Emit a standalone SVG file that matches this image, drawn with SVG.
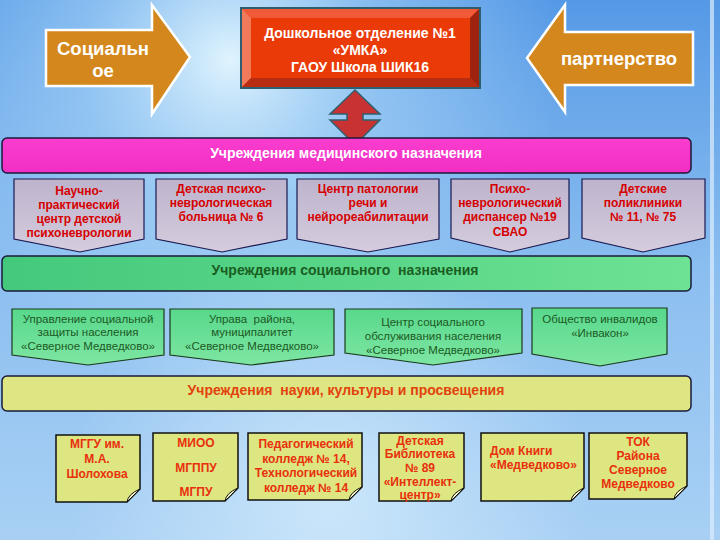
<svg xmlns="http://www.w3.org/2000/svg" width="720" height="540" viewBox="0 0 720 540">
<defs>
<linearGradient id="bg" x1="0" y1="0" x2="0" y2="1">
<stop offset="0" stop-color="#5599E6"/>
<stop offset="0.5" stop-color="#8BBEF0"/>
<stop offset="1" stop-color="#A8D0F4"/>
</linearGradient>
<radialGradient id="glow" cx="230" cy="60" r="330" gradientUnits="userSpaceOnUse">
<stop offset="0" stop-color="#E6F8FF" stop-opacity="0.95"/>
<stop offset="0.45" stop-color="#B8E0FA" stop-opacity="0.5"/>
<stop offset="1" stop-color="#B8E0FA" stop-opacity="0"/>
</radialGradient>
<radialGradient id="glow2" cx="330" cy="500" r="260" gradientUnits="userSpaceOnUse">
<stop offset="0" stop-color="#D4ECFC" stop-opacity="0.8"/>
<stop offset="1" stop-color="#D4ECFC" stop-opacity="0"/>
</radialGradient>
<linearGradient id="pink" x1="0" y1="0" x2="0" y2="1">
<stop offset="0" stop-color="#FA3DCF"/>
<stop offset="1" stop-color="#F22EC4"/>
</linearGradient>
<linearGradient id="green" x1="0" y1="0" x2="1" y2="0">
<stop offset="0" stop-color="#44C97C"/>
<stop offset="1" stop-color="#6EE294"/>
</linearGradient>
<linearGradient id="lav" x1="0" y1="0" x2="0" y2="1">
<stop offset="0" stop-color="#BDB3CC"/>
<stop offset="1" stop-color="#D6CCDE"/>
</linearGradient>
<linearGradient id="lgreen" x1="0" y1="0" x2="0" y2="1">
<stop offset="0" stop-color="#58D88C"/>
<stop offset="1" stop-color="#7EE6A2"/>
</linearGradient>
<style>
.t{font-family:"Liberation Sans",Arial,sans-serif;text-anchor:middle}
.arrow{fill:#D4871C;stroke:#FFFFFF;stroke-width:2.5}
.arrowtxt{fill:#FFFFFF;font-size:18.5px;font-weight:bold}
.boxtxt{fill:#FFFFFF;font-size:14px;font-weight:bold}
.bar{stroke:#1A1A3A;stroke-width:1.5}
.bartxt{font-size:14px;font-weight:bold}
.med{fill:url(#lav);stroke:#1A1A50;stroke-width:1.2}
.medtxt{fill:#D60000;font-size:12px;font-weight:bold}
.soc{fill:url(#lgreen);stroke:#1A3A1A;stroke-width:1.2}
.soctxt{fill:#1B5A24;font-size:11.5px}
.note{fill:#DDE680;stroke:#111111;stroke-width:1.5}
.fold{fill:#F4F6C8;stroke:#111111;stroke-width:1}
.notetxt{fill:#E8300E;font-size:12px;font-weight:bold}
</style>
</defs>
<rect width="720" height="540" fill="url(#bg)"/>
<rect width="720" height="540" fill="url(#glow)"/>
<rect width="720" height="540" fill="url(#glow2)"/>
<rect x="710" y="0" width="4" height="540" fill="#DDEEFF" opacity="0.7"/>

<g id="arrow-social">
<polygon class="arrow" points="46,30 152,30 152,5 190,57 152,114 152,86 46,86"/>
<text class="t arrowtxt" x="103" y="55">Социальн</text>
<text class="t arrowtxt" x="103" y="77">ое</text>
</g>

<g id="arrow-partner">
<polygon class="arrow" points="693,32 565,32 565,5 527,58 565,112 565,85 693,85"/>
<text class="t arrowtxt" x="619" y="65">партнерство</text>
</g>

<g id="main-box">
<rect x="241" y="8" width="239" height="80" fill="#E23A10" stroke="#2E5E6E" stroke-width="2"/>
<polygon points="242,9 479,9 470,18 251,18" fill="#F05A38"/>
<polygon points="242,9 251,18 251,78 242,87" fill="#F07A5A"/>
<polygon points="479,9 479,87 470,78 470,18" fill="#9E2410"/>
<polygon points="242,87 251,78 470,78 479,87" fill="#B82C12"/>
<rect x="251" y="18" width="219" height="60" fill="#EA3A08"/>
<text class="t boxtxt" x="360" y="38">Дошкольное отделение №1</text>
<text class="t boxtxt" x="360" y="55">«УМКА»</text>
<text class="t boxtxt" x="360" y="72">ГАОУ Школа ШИК16</text>
</g>

<g id="connectors">
<polygon points="355,90 380,114 363,114 363,120 380,120 355,145 330,120 347,120 347,114 330,114" fill="#C83232" stroke="#2E6070" stroke-width="1.5"/>
</g>

<g id="bar-medical">
<rect class="bar" x="2" y="138" width="689" height="35" rx="5" fill="url(#pink)"/>
<text class="t bartxt" x="346" y="158" fill="#FFFFFF">Учреждения медицинского назначения</text>
</g>

<g id="med-1">
<polygon class="med" points="14,179 144,179 144,239 80,252 14,239"/>
<text class="t medtxt" x="79" y="195">Научно-</text>
<text class="t medtxt" x="79" y="209">практический</text>
<text class="t medtxt" x="79" y="223">центр детской</text>
<text class="t medtxt" x="79" y="237">психоневрологии</text>
</g>
<g id="med-2">
<polygon class="med" points="156,179 287,179 287,239 222,252 156,239"/>
<text class="t medtxt" x="221" y="193">Детская психо-</text>
<text class="t medtxt" x="221" y="207">неврологическая</text>
<text class="t medtxt" x="221" y="221">больница № 6</text>
</g>
<g id="med-3">
<polygon class="med" points="297,179 439,179 439,239 368,252 297,239"/>
<text class="t medtxt" x="368" y="193">Центр патологии</text>
<text class="t medtxt" x="368" y="207">речи и</text>
<text class="t medtxt" x="368" y="221">нейрореабилитации</text>
</g>
<g id="med-4">
<polygon class="med" points="451,179 569,179 569,238 510,252 451,238"/>
<text class="t medtxt" x="510" y="193">Психо-</text>
<text class="t medtxt" x="510" y="207">неврологический</text>
<text class="t medtxt" x="510" y="221">диспансер №19</text>
<text class="t medtxt" x="510" y="236">СВАО</text>
</g>
<g id="med-5">
<polygon class="med" points="582,179 705,179 705,238 643,252 582,238"/>
<text class="t medtxt" x="643" y="193">Детские</text>
<text class="t medtxt" x="643" y="207">поликлиники</text>
<text class="t medtxt" x="643" y="221">№ 11, № 75</text>
</g>

<g id="bar-social">
<rect class="bar" x="2" y="256" width="689" height="35" rx="5" fill="url(#green)"/>
<text class="t bartxt" x="345" y="275" fill="#1A5E22" xml:space="preserve">Учреждения социального  назначения</text>
</g>

<g id="soc-1">
<polygon class="soc" points="12,309 164,309 164,355 88,365 12,355"/>
<text class="t soctxt" x="88" y="323">Управление социальной</text>
<text class="t soctxt" x="88" y="336">защиты населения</text>
<text class="t soctxt" x="88" y="350">«Северное Медведково»</text>
</g>
<g id="soc-2">
<polygon class="soc" points="170,309 334,309 334,355 251,365 170,355"/>
<text class="t soctxt" x="252" y="323" xml:space="preserve">Управа  района,</text>
<text class="t soctxt" x="252" y="336">муниципалитет</text>
<text class="t soctxt" x="252" y="350">«Северное Медведково»</text>
</g>
<g id="soc-3">
<polygon class="soc" points="345,309 522,309 522,353 433,365 345,353"/>
<text class="t soctxt" x="433" y="326" font-size="12">Центр социального</text>
<text class="t soctxt" x="433" y="340" font-size="12">обслуживания населения</text>
<text class="t soctxt" x="433" y="354" font-size="12">«Северное Медведково»</text>
</g>
<g id="soc-4">
<polygon class="soc" points="532,308 667,308 667,354 600,366 532,354"/>
<text class="t soctxt" x="600" y="323">Общество инвалидов</text>
<text class="t soctxt" x="600" y="337">«Инвакон»</text>
</g>

<g id="bar-science">
<rect class="bar" x="2" y="376" width="689" height="35" rx="5" fill="#DDE683"/>
<text class="t bartxt" x="346" y="395" fill="#E2420E" xml:space="preserve">Учреждения  науки, культуры и просвещения</text>
</g>

<g id="sci-1">
<path class="note" d="M56,435 H140 V489 L127,502 H56 Z"/>
<path class="fold" d="M140,489 L127,502 Q128,494 140,489 Z"/>
<text class="t notetxt" x="97" y="448">МГГУ им.</text>
<text class="t notetxt" x="97" y="463">М.А.</text>
<text class="t notetxt" x="97" y="478">Шолохова</text>
</g>
<g id="sci-2">
<path class="note" d="M153,433 H238 V488 L225,501 H153 Z"/>
<path class="fold" d="M238,488 L225,501 Q226,493 238,488 Z"/>
<text class="t notetxt" x="196" y="447">МИОО</text>
<text class="t notetxt" x="196" y="472">МГППУ</text>
<text class="t notetxt" x="196" y="496">МГПУ</text>
</g>
<g id="sci-3">
<path class="note" d="M248,433 H362 V487 L349,500 H248 Z"/>
<path class="fold" d="M362,487 L349,500 Q350,492 362,487 Z"/>
<text class="t notetxt" x="306" y="448">Педагогический</text>
<text class="t notetxt" x="306" y="463">колледж № 14,</text>
<text class="t notetxt" x="306" y="477">Технологический</text>
<text class="t notetxt" x="306" y="492">колледж № 14</text>
</g>
<g id="sci-4">
<path class="note" d="M379,433 H464 V488 L451,501 H379 Z"/>
<path class="fold" d="M464,488 L451,501 Q452,493 464,488 Z"/>
<text class="t notetxt" x="420" y="445" font-size="10" font-weight="normal">Детская</text>
<text class="t notetxt" x="420" y="458" font-size="10" font-weight="normal">Библиотека</text>
<text class="t notetxt" x="420" y="472" font-size="10" font-weight="normal">№ 89</text>
<text class="t notetxt" x="420" y="486" font-size="10" font-weight="normal">«Интеллект-</text>
<text class="t notetxt" x="420" y="499" font-size="10" font-weight="normal">центр»</text>
</g>
<g id="sci-5">
<path class="note" d="M481,433 H584 V488 L571,501 H481 Z"/>
<path class="fold" d="M584,488 L571,501 Q572,493 584,488 Z"/>
<text class="t notetxt" x="490" y="455" font-size="11.5" font-weight="normal" style="text-anchor:start">Дом Книги</text>
<text class="t notetxt" x="490" y="469" font-size="11.5" font-weight="normal" style="text-anchor:start">«Медведково»</text>
</g>
<g id="sci-6">
<path class="note" d="M589,433 H687 V486 L674,499 H589 Z"/>
<path class="fold" d="M687,486 L674,499 Q675,491 687,486 Z"/>
<text class="t notetxt" x="638" y="446" font-size="11">ТОК</text>
<text class="t notetxt" x="638" y="460" font-size="11" font-weight="normal">Района</text>
<text class="t notetxt" x="638" y="474" font-size="11" font-weight="normal">Северное</text>
<text class="t notetxt" x="638" y="488" font-size="11" font-weight="normal">Медведково</text>
</g>
</svg>
